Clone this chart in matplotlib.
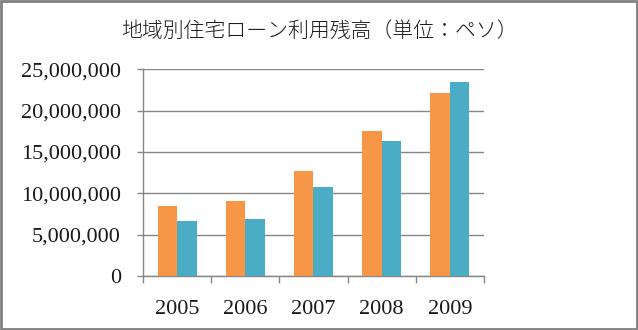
import matplotlib
matplotlib.use('Agg')
import matplotlib.pyplot as plt
import numpy as np
from matplotlib.patches import Rectangle
from matplotlib.ticker import FuncFormatter

# data
years = ['2005', '2006', '2007', '2008', '2009']
series_a = [8470000, 9070000, 12700000, 17540000, 22140000]
series_b = [6650000, 6900000, 10770000, 16330000, 23470000]
title = '地域別住宅ローン利用残高（単位：ペソ）'

orange = '#F79646'
teal = '#4BACC6'
gray = '#868686'

fig = plt.figure(figsize=(6.38, 3.30), dpi=100)
ax = fig.add_axes([0.2241, 0.1636, 0.7586 - 0.2241, 0.79 - 0.1636])

x = np.arange(len(years))
w = 0.286
ax.bar(x - w / 2, series_a, width=w, color=orange, zorder=3)
ax.bar(x + w / 2, series_b, width=w, color=teal, zorder=3)

ax.set_xlim(-0.5, len(years) - 0.5)
ax.set_ylim(0, 25000000)
ax.set_yticks(np.arange(0, 25000001, 5000000))
ax.yaxis.set_major_formatter(FuncFormatter(lambda v, p: format(int(v), ',')))
ax.grid(True, axis='y', color=gray, linewidth=1.0, zorder=0)

# category labels in the middle, tick marks on the boundaries
ax.set_xticks(x)
ax.set_xticklabels(years)
ax.set_xticks(np.arange(-0.5, len(years), 1.0), minor=True)
ax.tick_params(axis='x', which='major', length=0, pad=17)
ax.tick_params(axis='x', which='minor', length=5, color=gray, width=1)
ax.tick_params(axis='y', length=4, color=gray, width=1, pad=12)

for lab in ax.get_xticklabels() + ax.get_yticklabels():
    lab.set_family('Liberation Serif')
    lab.set_fontsize(16)
    lab.set_color('#1a1a1a')

for side in ['top', 'right']:
    ax.spines[side].set_visible(False)
for side in ['left', 'bottom']:
    ax.spines[side].set_color(gray)
    ax.spines[side].set_linewidth(1.0)

fig.text(0.5, 1 - 31 / 330, title, ha='center', va='center', fontsize=15,
         family=['Noto Sans CJK JP', 'DejaVu Sans'], color='#1a1a1a', fontweight='light')

# outer frame of the chart
fig.patches.append(Rectangle((0.0015, 0.003), 0.997, 0.994, transform=fig.transFigure,
                             fill=False, edgecolor='#808080', linewidth=2))

fig.savefig('out.png', dpi=100)
